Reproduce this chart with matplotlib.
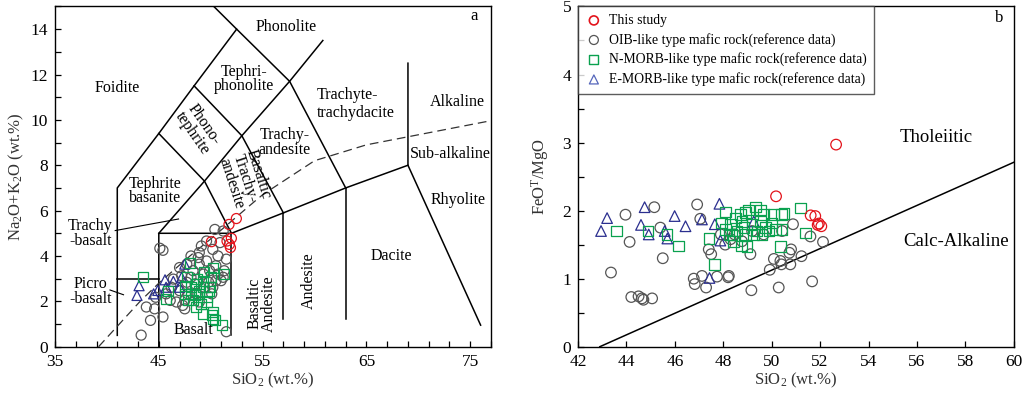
import matplotlib
matplotlib.use("Agg")
import matplotlib.pyplot as plt
from matplotlib.ticker import MultipleLocator, FixedLocator

plt.rcParams.update(
    {
        "font.family": ["Liberation Serif", "DejaVu Serif"],
        "mathtext.fontset": "custom",
        "mathtext.rm": "Liberation Serif",
        "mathtext.default": "regular",
        "axes.linewidth": 1.0,
        "font.size": 11,
    }
)

RED = "#e3131b"
GRAY = "#555555"
GREEN = "#0aa14f"
BLUE = "#2b2f8f"

# ---- panel a: TAS data (SiO2, Na2O+K2O) ----
tas_this_x = [50.07, 51.76, 52.47, 51.57, 51.99, 51.80, 51.90]
tas_this_y = [4.63, 5.39, 5.65, 4.66, 4.78, 4.51, 4.37]

tas_oib_x = [43.3, 44.2, 45.4, 43.8, 44.6, 44.7, 45.1, 45.4, 51.5, 47.5, 47.3, 46.7,
             50.4, 49.6, 51.2, 48.1, 48.9, 50.2, 50.7, 47.0, 46.4, 46.2, 47.7, 48.3,
             48.9, 49.6, 50.5, 51.2, 51.0, 50.2, 50.1, 48.9, 47.5, 48.6, 47.0, 48.1,
             49.3, 49.8, 47.8, 45.7, 46.1, 49.9, 50.7, 48.8, 47.7, 47.2, 48.5, 49.4,
             50.5, 51.3, 51.5, 50.9, 49.1]
tas_oib_y = [0.51, 1.16, 1.31, 1.75, 1.67, 2.18, 4.34, 4.25, 0.66, 1.67, 1.82, 1.97,
             5.17, 4.66, 5.10, 4.00, 4.15, 4.29, 4.00, 3.49, 2.98, 2.62, 2.84, 3.35,
             3.64, 3.78, 3.57, 3.06, 2.91, 2.62, 2.33, 1.97, 2.04, 2.33, 2.47, 3.06,
             3.20, 2.84, 2.33, 2.33, 2.04, 3.35, 3.20, 3.93, 3.64, 3.13, 2.77, 2.62,
             2.91, 3.35, 3.86, 4.59, 4.44]

tas_nmorb_x = [43.5, 48.0, 50.2, 51.3, 47.7, 49.3, 45.9, 45.7, 48.3, 47.5, 48.9, 49.6,
               49.1, 49.3, 50.1, 50.2, 50.4, 51.1, 48.1, 48.6, 49.8, 48.6, 47.8, 48.7,
               49.4, 49.9, 48.1, 48.5, 48.9, 49.3, 47.5, 50.0, 49.6, 50.2]
tas_nmorb_y = [3.06, 3.71, 3.49, 3.20, 3.06, 2.91, 2.47, 2.11, 2.04, 2.33, 2.47, 2.18,
               1.89, 1.46, 1.38, 1.24, 1.16, 0.95, 2.62, 2.77, 2.47, 1.75, 2.04, 2.98,
               3.28, 2.62, 2.33, 2.26, 2.33, 2.62, 2.69, 3.06, 1.97, 1.53]

tas_emorb_x = [43.1, 42.9, 44.5, 45.6, 45.7, 46.4, 47.0, 47.5, 47.2, 44.9]
tas_emorb_y = [2.69, 2.26, 2.33, 2.95, 2.62, 2.88, 2.62, 3.64, 3.06, 2.48]

# ---- panel b: SiO2 vs FeOT/MgO ----
fm_this_x = [52.66, 50.18, 51.61, 51.80, 51.95, 52.05, 51.90]
fm_this_y = [2.97, 2.21, 1.93, 1.92, 1.81, 1.77, 1.79]

fm_oib_x = [43.36, 43.96, 44.13, 44.20, 44.50, 44.64, 44.70, 45.06, 45.15, 45.40, 45.50,
            46.92, 46.78, 46.82, 47.05, 47.12, 47.29, 47.40, 47.50, 47.74, 48.23, 48.20,
            49.12, 49.16, 49.92, 50.09, 50.40, 50.29, 50.77, 50.80, 50.73, 50.88, 51.23,
            51.60, 51.67, 52.12, 48.30, 48.47, 48.77, 49.19, 49.67, 50.43, 50.36, 47.90,
            48.08]
fm_oib_y = [1.09, 1.94, 1.54, 0.73, 0.74, 0.71, 0.69, 0.71, 2.05, 1.75, 1.30,
            2.09, 1.00, 0.92, 1.88, 1.04, 0.87, 1.43, 1.36, 1.03, 1.04, 1.02,
            1.36, 0.83, 1.13, 1.29, 1.21, 0.87, 1.21, 1.43, 1.38, 1.80, 1.33,
            1.62, 0.96, 1.54, 1.58, 1.65, 1.55, 1.70, 1.65, 1.70, 1.26, 1.65,
            1.50]

fm_nmorb_x = [43.58, 44.89, 45.68, 46.16, 47.41, 47.63, 48.09, 47.92, 48.29, 48.50, 48.71,
              48.91, 49.05, 49.33, 49.53, 49.67, 50.08, 50.50, 50.40, 51.20, 51.39, 50.36,
              48.75, 48.98, 48.09, 48.36, 48.57, 48.85, 49.19, 49.40, 49.60, 49.88, 50.15,
              50.43, 48.23, 48.91, 49.26, 49.74, 50.02, 49.53, 48.77, 48.43]
fm_nmorb_y = [1.70, 1.70, 1.65, 1.48, 1.59, 1.21, 1.98, 1.82, 1.80, 1.89, 1.94,
              1.97, 2.01, 2.05, 2.01, 1.94, 1.94, 1.96, 1.94, 2.04, 1.67, 1.47,
              1.48, 1.47, 1.72, 1.65, 1.70, 1.75, 1.80, 1.70, 1.65, 1.70, 1.72,
              1.72, 1.65, 1.65, 1.65, 1.75, 1.82, 1.84, 1.84, 1.55]

fm_emorb_x = [42.95, 43.20, 44.60, 44.75, 44.92, 45.58, 45.69, 45.99, 46.44, 47.12, 47.65,
              47.84, 47.88, 47.43, 49.26]
fm_emorb_y = [1.70, 1.89, 1.79, 2.05, 1.65, 1.70, 1.59, 1.92, 1.77, 1.87, 1.80,
              2.10, 1.56, 1.01, 1.84]

# ---- TAS field boundaries (SiO2, Na2O+K2O) ----
tas_lines = [
    [(41, 0.5), (41, 7), (45, 9.4), (48.4, 11.5), (52.5, 14), (50.3, 15.0)],
    [(41, 3), (45, 3)],
    [(45, 0), (45, 5), (52, 5), (57, 5.9), (63, 7), (69, 8)],
    [(52, 0.5), (52, 5)],
    [(57, 1.2), (57, 5.9)],
    [(63, 1.2), (63, 7)],
    [(69, 12.5), (69, 8), (76, 0.95)],
    [(45, 5), (49.4, 7.3), (53, 9.3), (57.6, 11.7), (60.8, 13.5)],
    [(45, 9.4), (49.4, 7.3), (52, 5)],
    [(48.4, 11.5), (53, 9.3), (57, 5.9)],
    [(52.5, 14), (57.6, 11.7), (63, 7)],
]
ib_x = [39.2, 40, 43.2, 45, 48, 50, 53.7, 55, 60, 65, 77.4]
ib_y = [0, 0.4, 2, 2.8, 4, 4.75, 6.2, 6.7, 8.2, 8.9, 10]

# Miyashiro tholeiitic / calc-alkaline divide
mi_x = [42.9, 60.0]
mi_y = [0.0, 2.71]


def draw_points(ax, sets, s=52):
    for x, y, marker, color in sets:
        ax.scatter(x, y, s=s, marker=marker, facecolors="none", edgecolors=color,
                   linewidths=0.9, zorder=3)


def style_ticks(ax):
    ax.tick_params(which="both", direction="in", length=4, width=0.9, top=False, right=False,
                   labelsize=12.5, pad=5)


fig = plt.figure(figsize=(10.24, 3.97), dpi=100)
ax1 = fig.add_axes([0.0537, 0.1267, 0.4258, 0.857])
ax2 = fig.add_axes([0.5645, 0.1267, 0.4255, 0.857])

# ---------- panel a ----------
for seg in tas_lines:
    xs, ys = zip(*seg)
    ax1.plot(xs, ys, color="black", lw=1.1, zorder=1)
ax1.plot(ib_x, ib_y, color="#333333", lw=0.9, dashes=(7, 4), zorder=1)

draw_points(ax1, [
    (tas_oib_x, tas_oib_y, "o", GRAY),
    (tas_emorb_x, tas_emorb_y, "^", BLUE),
    (tas_nmorb_x, tas_nmorb_y, "s", GREEN),
    (tas_this_x, tas_this_y, "o", RED),
])

fs = 11.5
ax1.text(57.3, 14.1, "Phonolite", fontsize=fs, ha="center", va="center")
ax1.text(41.0, 11.4, "Foidite", fontsize=fs, ha="center", va="center")
ax1.text(53.2, 11.8, "Tephri-\nphonolite", fontsize=fs, ha="center", va="center", linespacing=0.9)
ax1.text(60.2, 10.7, "Trachyte-\ntrachydacite", fontsize=fs, ha="left", va="center", linespacing=1.15)
ax1.text(73.8, 10.8, "Alkaline", fontsize=fs, ha="center", va="center")
ax1.text(48.8, 9.6, "Phono-\ntephrite", fontsize=fs, ha="center", va="center", rotation=-55,
         linespacing=0.9)
ax1.text(57.1, 9.0, "Trachy-\nandesite", fontsize=fs, ha="center", va="center", linespacing=0.9)
ax1.text(53.3, 7.4, "Basaltic\nTrachy-\nandesite", fontsize=fs, ha="center", va="center",
         rotation=-72, linespacing=0.85)
ax1.text(73.1, 8.5, "Sub-alkaline", fontsize=fs, ha="center", va="center")
ax1.text(44.6, 6.85, "Tephrite\nbasanite", fontsize=fs, ha="center", va="center", linespacing=0.85)
ax1.text(73.8, 6.48, "Rhyolite", fontsize=fs, ha="center", va="center")
ax1.text(38.4, 5.0, "Trachy\n-basalt", fontsize=fs, ha="center", va="center", linespacing=0.9)
ax1.plot([40.8, 46.9], [5.12, 5.63], color="black", lw=0.8)
ax1.text(67.4, 4.0, "Dacite", fontsize=fs, ha="center", va="center")
ax1.text(59.5, 2.9, "Andesite", fontsize=fs, ha="center", va="center", rotation=90)
ax1.text(54.9, 1.9, "Basaltic\nAndesite", fontsize=fs, ha="center", va="center", rotation=90,
         linespacing=0.85)
ax1.text(38.4, 2.45, "Picro\n-basalt", fontsize=fs, ha="center", va="center", linespacing=0.9)
ax1.plot([40.3, 41.6], [2.5, 2.29], color="black", lw=0.8)
ax1.text(48.3, 0.73, "Basalt", fontsize=fs, ha="center", va="center")
ax1.text(75.4, 14.6, "a", fontsize=12, ha="center", va="center")

ax1.set_xlim(35, 77)
ax1.set_ylim(0, 15)
ax1.xaxis.set_major_locator(FixedLocator([35, 45, 55, 65, 75]))
ax1.xaxis.set_minor_locator(FixedLocator([v for v in range(37, 78, 2) if (v - 35) % 10]))
ax1.yaxis.set_major_locator(MultipleLocator(2))
ax1.yaxis.set_minor_locator(MultipleLocator(1))
style_ticks(ax1)
ax1.set_xlabel("SiO$_2$ (wt.%)", fontsize=12, labelpad=1, color="#333333")
ax1.set_ylabel("Na$_2$O+K$_2$O (wt.%)", fontsize=12, labelpad=3, color="#333333")

# ---------- panel b ----------
ax2.plot(mi_x, mi_y, color="black", lw=1.1, zorder=1)
draw_points(ax2, [
    (fm_oib_x, fm_oib_y, "o", GRAY),
    (fm_emorb_x, fm_emorb_y, "^", BLUE),
    (fm_nmorb_x, fm_nmorb_y, "s", GREEN),
    (fm_this_x, fm_this_y, "o", RED),
], s=58)

ax2.text(56.8, 3.08, "Tholeiitic", fontsize=13.5, ha="center", va="center")
ax2.text(57.6, 1.55, "Calc-Alkaline", fontsize=13.5, ha="center", va="center")
ax2.text(59.4, 4.83, "b", fontsize=12, ha="center", va="center")

# legend handles
h_this = ax2.scatter([], [], s=42, marker="o", facecolors="none", edgecolors=RED, linewidths=1.2)
h_oib = ax2.scatter([], [], s=42, marker="o", facecolors="none", edgecolors=GRAY, linewidths=0.9)
h_n = ax2.scatter([], [], s=42, marker="s", facecolors="none", edgecolors=GREEN, linewidths=1.0)
h_e = ax2.scatter([], [], s=42, marker="^", facecolors="none", edgecolors="#5566bb", linewidths=0.9)
leg = ax2.legend(
    [h_this, h_oib, h_n, h_e],
    ["This study", "OIB-like type mafic rock(reference data)",
     "N-MORB-like type mafic rock(reference data)", "E-MORB-like type mafic rock(reference data)"],
    loc="upper left", bbox_to_anchor=(0, 1), borderaxespad=0, fontsize=9.9, frameon=True,
    fancybox=False, edgecolor="#333333", handletextpad=0.5, labelspacing=0.42,
    borderpad=0.55, handlelength=1.2,
)
leg.get_frame().set_linewidth(1.0)

ax2.set_xlim(42, 60)
ax2.set_ylim(0, 5)
ax2.xaxis.set_major_locator(MultipleLocator(2))
ax2.yaxis.set_major_locator(MultipleLocator(1))
ax2.yaxis.set_minor_locator(MultipleLocator(0.5))
style_ticks(ax2)
ax2.set_xlabel("SiO$_2$ (wt.%)", fontsize=12, labelpad=1, color="#333333")
ax2.set_ylabel("FeO$^T$/MgO", fontsize=12, labelpad=8, color="#333333")

fig.savefig("out.png", dpi=100)
